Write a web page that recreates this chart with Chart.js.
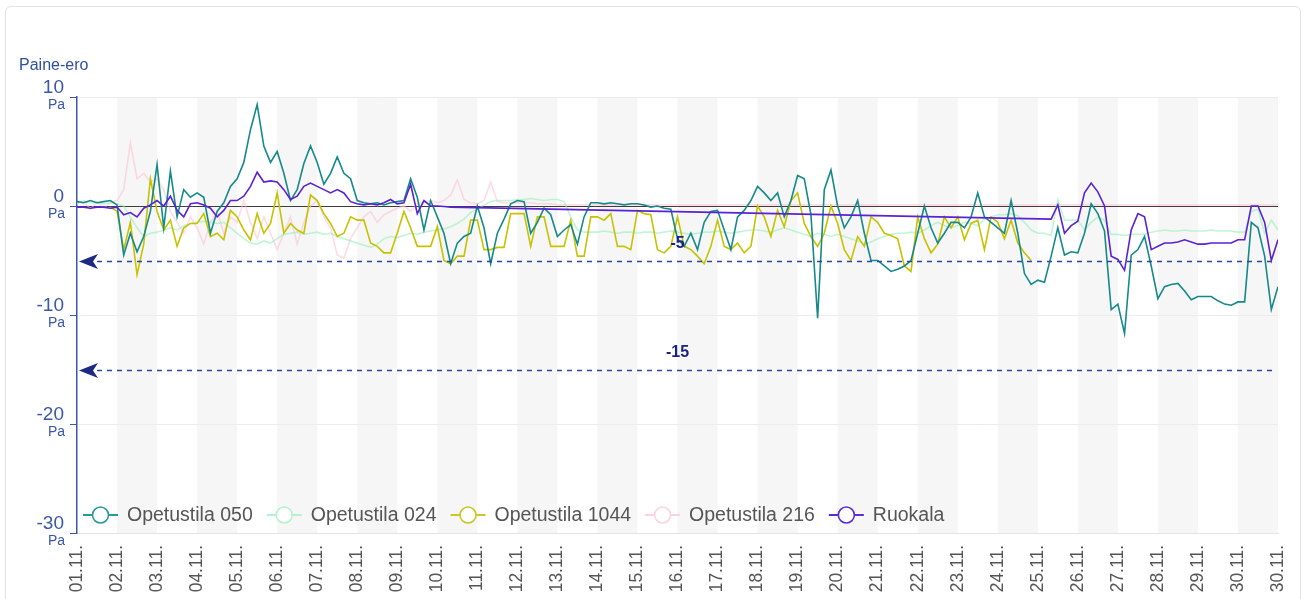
<!DOCTYPE html>
<html>
<head>
<meta charset="utf-8">
<script src="https://cdn.jsdelivr.net/npm/chart.js@4.4.1/dist/chart.umd.min.js"></script>
<style>
  html, body { margin: 0; padding: 0; background: #ffffff; }
  #card { position: absolute; left: 5px; top: 6px; width: 1296px; height: 640px;
          border: 1px solid #e2e2e2; border-radius: 6px; box-sizing: border-box; }
  #wrap { position: absolute; left: 0; top: 0; width: 1308px; height: 599px; }
</style>
</head>
<body>
<div id="card"></div>
<div id="wrap"><canvas id="c" width="1308" height="599"></canvas></div>
<script>
// ---- data (x axis: days since 01.11. 00:00, one value every 4 hours) ----
const stepHours = 4;
const dayLabels = ['01.11.','02.11.','03.11.','04.11.','05.11.','06.11.','07.11.','08.11.','09.11.','10.11.',
  '11.11.','12.11.','13.11.','14.11.','15.11.','16.11.','17.11.','18.11.','19.11.','20.11.',
  '21.11.','22.11.','23.11.','24.11.','25.11.','26.11.','27.11.','28.11.','29.11.','30.11.','30.11.'];
const yTickValues = [10, 0, -10, -20, -30];
const yUnit = 'Pa';
const limitValues = [-5, -15];

const seriesNames = ['Opetustila 050', 'Opetustila 024', 'Opetustila 1044', 'Opetustila 216', 'Ruokala'];

const op050 = [
  0.4, 0.3, 0.5, 0.3, 0.4, 0.5,
  0.1, -4.5, -2.5, -4.2, -2.8, -0.5,
  3.8, -2, 3.2, -1, 1.5, 0.8,
  1.2, 0.8, -2.5, -0.5, 0.3, 1.8,
  2.5, 4, 7, 9.3, 5.5, 4,
  5, 3, 0.5, 1.5, 3.9, 5.5,
  4, 2, 3, 4.5, 3, 2.5,
  0.5, 0.3, 0.2, 0.3, 0.1, 0.3,
  0.4, 0.5, 2.5, 0.8, -2.2, 0.5,
  -1, -2.5, -5.3, -3.4, -2.8, -2.5,
  0, -2, -5.3, -2.5, -1.2, 0.2,
  0.5, 0.4, -2.5, -1.5, -0.2, -0.8,
  -2.8, -2.2, -1.7, -3.5, -1, 0.3,
  0.3, 0.2, 0.3, 0.2, 0.1, 0.2,
  0.2, 0.1, -0.1, 0, -0.2, -0.3,
  -3, -3.7, -2.5, -4, -1.5, -0.5,
  -0.4, -2.2, -4, -1, -0.4, 0.5,
  1.8, 1.2, 0.5, 1.2, -1, 0.5,
  2.8, 2.5, -0.8, -10.3, 1.5, 3.3,
  0, -2, -1, 0.5, -2.5, -5,
  -5, -5.5, -6, -5.8, -5.5, -5,
  -2.5, 0, -2, -3.4, -2.5, -1.5,
  -1.5, -2, -1, 1.2, -1, -1.5,
  -2, -2.5, 0.5, -2.5, -6.2, -7.2,
  -6.8, -7, -4.6, -2, -4.5, -4.2,
  -4.3, -2.5, 0.2, -0.7, -2.3, -9.5,
  -9, -11.7, -4.5, -4, -2.8, -5.5,
  -8.5, -7.4, -7.2, -7.1, -7.8, -8.6,
  -8.3, -8.3, -8.3, -8.7, -9, -9.1,
  -8.8, -8.8, -1.5, -2, -4.6, -9.5,
  -7.4
];

const op024 = [
  0.3, 0.4, 0.3, 0.3, 0.2, 0.3,
  0.2, 0, -1, -2, -2.8, -2.5,
  -2.4, -2.2, -2, -2.2, -1.8, -1.6,
  -1.5, -1.4, -1.5, -1.6, -1.5, -2,
  -2.5, -3, -3.4, -3.5, -3.2, -3.4,
  -3, -2.6, -2.5, -2.4, -2.6, -2.5,
  -2.4, -2.6, -2.5, -2.8, -3, -3.2,
  -3.4, -3.6, -3.8, -3.5, -3, -2.8,
  -2.9, -2.7, -2.5, -2.6, -2.4, -2.3,
  -2.2, -2.1, -1.9, -1.6, -1.2, -0.6,
  -0.3, 0.1, 0.4, 0.5, 0.5, 0.5,
  0.6, 0.6, 0.7, 0.6, 0.5, 0.6,
  0.6, 0.4, -1, -2.2, -2.4, -2.4,
  -2.4, -2.3, -2.4, -2.5, -2.4, -2.4,
  -2.5, -2.4, -2.4, -2.5, -2.4, -2.3,
  -2.4, -2.5, -2.6, -2.5, -2.4, -2.4,
  -2.3, -2.4, -2.5, -2.4, -2.3, -2.2,
  -2.2, -2.3, -2.4, -2.2, -2, -2.2,
  -2.4, -2.6, -2.8, -2.5, -2.6, -2.8,
  -2.6, -2.8, -3, -3.2, -3.5, -3.3,
  -3, -2.8, -2.6, -2.5, -2.5, -2.4,
  -2.5, -2.2, -1.8, -1.5, -1.8, -2,
  -1.8, -1.5, -1.6, -1.8, -1.2, -1,
  -0.8, -0.8, -0.7, -0.9, -1.5, -2.2,
  -2.5, -2.5, -2.7, 0.6, -1.3, -1.3,
  -1.3, -2.2, -1.5, -1, -1.3, -2.6,
  -2.6, -2.7, -2.6, -2.6, -2.6, -2.4,
  -2.3, -2.2, -2.3, -2.3, -2.2, -2.3,
  -2.3, -2.3, -2.2, -2.3, -2.3, -2.3,
  -2.4, -2.4, -0.5, -0.3, -2.5, -1.3,
  -2.2
];

const op1044 = [
  null, null, null, null, null, -0.1,
  -0.5, -4, -1.5, -6.3, -3.5, 2.5,
  -0.5, -2.2, -1.3, -3.7, -2, -1.6,
  -1.6, -0.7, -2.8, -2.5, -3.1, -0.4,
  -1, -2.2, -3.1, -0.7, -2.5, -1.6,
  1.2, -2.5, -1.6, -2.2, -2.5, 1,
  0.5, -0.7, -1.6, -2.8, -2.5, -1,
  -1.3, -1.3, -3.4, -3.7, -4.3, -4.3,
  -2.5, -0.5, -2, -3.7, -3.7, -3.7,
  -1.9, -5, -5.3, -4.6, -4.6, -1.3,
  -1.3, -4, -4, -3.8, -3.8, -0.7,
  -0.7, -0.7, -3.7, -1, -1, -3.7,
  -3.7, -3.7, -1.3, -4.6, -4.6, -1,
  -1, -1.3, -0.7, -3.7, -3.7, -4,
  -0.4, -0.7, -0.8, -4, -4.3, -3.7,
  -1, -3.7, -4, -4.6, -5.3, -3.7,
  -1.3, -3.7, -4, -3.4, -4.3, -3.7,
  0, -1, -2.8, -0.4, -1.9, 0.5,
  1.2, -1.6, -2.8, -3.7, -2.5, 0,
  -1.6, -4, -5, -2.8, -3.7, -1,
  -1.5, -2.5, -2.7, -3, -5.5, -6,
  -1, -3, -4.3, -3.5, -1, -2,
  -1, -3.1, -1.6, -1.3, -4, -1,
  -1.5, -3, -1.3, -3.4, -4.3, -5,
  null, null, null, null, null, null,
  null, null, null, null, null, null,
  null, null, null, null, null, null,
  null, null, null, null, null, null,
  null, null, null, null, null, null,
  null, null, null, null, null, null,
  null
];

const op216 = [
  0.2, 0.5, -0.3, 0.4, -0.2, 0.3,
  0.5, 1.5, 5.8, 2.5, 3, 2.2,
  2.5, 1.5, -0.5, -1.5, -2.5, -1,
  -2, -3.5, -1.5, -0.5, -2.5, -1,
  -1.5, 0.5, -1.5, -3, -1, -2.5,
  -4, -2.5, -1, -3.5, -1.5, 0,
  0.5, -1, -2, -4.5, -4.8, -3,
  -2, -1, -0.5, -1.5, -0.8, -0.5,
  -0.2, 0, -0.5, 0.2, 0.3, 0.5,
  0.3, 0.5, 1, 2.4, 0.6, 0.3,
  0.2, 0.5, 2.2, 0.4, 0.3, 0.3,
  0.3, 0.3, 0.3, 0.2, 0.2, 0.2,
  0.1, 0.1, 0.1, 0.1, 0.1, 0.1,
  0.1, 0.1, 0.1, 0.1, 0.1, 0.1,
  0.1, 0.1, 0.1, 0.1, 0.1, 0.1,
  0.1, 0.1, 0.1, 0.1, 0.1, 0.1,
  0.1, 0.1, 0.1, 0.1, 0.1, 0.1,
  0.1, 0.1, 0.1, 0.1, 0.1, 0.1,
  0.1, 0.1, 0.1, 0.1, 0.1, 0.1,
  0.1, 0.1, 0.1, 0.1, 0.1, 0.1,
  0.1, 0.1, 0.1, 0.1, 0.1, 0.1,
  0.1, 0.1, 0.1, 0.1, 0.1, 0.1,
  0.1, 0.1, 0.1, 0.1, 0.1, 0.1,
  0.1, 0.1, 0.1, 0.1, 0.1, 0.1,
  0.1, 0.1, 0.1, 0.1, 0.1, 0.1,
  0.1, 0.1, 0.1, 0.1, 0.1, 0.1,
  0.1, 0.1, 0.1, 0.1, 0.1, 0.1,
  0.1, 0.1, 0.1, 0.1, 0.1, 0.1,
  0.1, 0.1, 0.1, 0.1, 0.1, 0.1,
  0.1, 0.1, 0.1, 0.1, 0.1, 0.1,
  0.1
];

const ruokala = [
  -0.1, -0.1, -0.2, -0.1, -0.1, -0.2,
  -0.1, -0.8, -0.6, -1, -0.2, 0.1,
  0.5, 0, 0.9, -0.4, -1, 0.2,
  0.3, 0.1, -0.2, -1, -0.4, 0.5,
  0.5, 0.9, 1.8, 3.1, 2.2, 2.3,
  2.2, 1.5, 0.6, 0.9, 1.8, 2.1,
  1.8, 1.5, 1.2, 1.5, 1.2, 0.4,
  0.2, 0.1, 0.2, 0.1, 0.3, 0.6,
  0.2, 0.3, 2, -0.7, 0.5, 0,
  0, -0.05, -0.1, null, null, null,
  null, null, null, null, null, null,
  null, null, null, null, null, null,
  null, null, null, null, null, null,
  null, null, null, null, null, null,
  null, null, null, null, null, null,
  null, null, null, null, null, null,
  null, null, null, null, null, null,
  null, null, null, null, null, null,
  null, null, null, null, null, null,
  null, null, null, null, null, null,
  null, null, null, null, null, null,
  null, null, null, null, null, null,
  null, null, null, null, null, null,
  null, null, null, null, null, null,
  null, null, -1.2, 0.1, -2.5, -1.8,
  -1.4, 1.2, 2.1, 1.3, 0, -4.6,
  -4.9, -5.9, -2.2, -0.7, -1, -4,
  -3.7, -3.4, -3.4, -3.3, -3.1, -3.3,
  -3.5, -3.5, -3.4, -3.4, -3.4, -3.4,
  -3.1, -3.1, 0, 0, -1.5, -5,
  -3.1
];

// ---- styling ----
const FONT = '"Liberation Sans", Arial, sans-serif';
const BLUE_AXIS = '#3b57a8';
const seriesColors = ['#16898a', 'rgba(150,240,185,0.6)', '#c7c200', 'rgba(255,195,210,0.6)', '#5a22d4'];
const legendColors = ['#2a9a9a', '#b4f3cc', '#cbc62a', '#ffd3de', '#5b2dd6'];
const drawOrder = [1, 3, 2, 4, 0];

function toPoints(arr) {
  return arr.map((v, i) => ({ x: i * stepHours / 24, y: v }));
}
const seriesData = [op050, op024, op1044, op216, ruokala];

const bandsPlugin = {
  id: 'dayBands',
  beforeDraw(chart) {
    const { ctx, chartArea: ca, scales: { x } } = chart;
    ctx.save();
    ctx.fillStyle = '#f6f6f6';
    for (let d = 1; d < 30; d += 2) {
      const x0 = x.getPixelForValue(d), x1 = x.getPixelForValue(d + 1);
      ctx.fillRect(x0, ca.top, x1 - x0, ca.bottom - ca.top);
    }
    ctx.restore();
  }
};

const limitsPlugin = {
  id: 'limits',
  afterDatasetsDraw(chart) {
    const { ctx, chartArea: ca, scales: { y } } = chart;
    ctx.save();
    limitValues.forEach(v => {
      const py = Math.round(y.getPixelForValue(v)) + 0.5;
      ctx.strokeStyle = '#2f45a6';
      ctx.lineWidth = 1.3;
      ctx.setLineDash([5, 5]);
      ctx.beginPath();
      ctx.moveTo(ca.left + 20, py);
      ctx.lineTo(ca.right - 6, py);
      ctx.stroke();
      ctx.setLineDash([]);
      // arrow head
      ctx.fillStyle = '#1b2a84';
      ctx.beginPath();
      ctx.moveTo(ca.left + 2, py);
      ctx.lineTo(ca.left + 21, py - 7.5);
      ctx.lineTo(ca.left + 16, py);
      ctx.lineTo(ca.left + 21, py + 7.5);
      ctx.closePath();
      ctx.fill();
      // label
      ctx.font = 'bold 16px ' + FONT;
      ctx.fillStyle = '#1b2380';
      ctx.textAlign = 'center';
      ctx.textBaseline = 'middle';
      ctx.fillText(String(v), (ca.left + ca.right) / 2, py - 18);
    });
    ctx.restore();
  }
};

const yLabelsPlugin = {
  id: 'yLabels',
  afterDraw(chart) {
    const { ctx, scales: { y } } = chart;
    ctx.save();
    ctx.fillStyle = BLUE_AXIS;
    ctx.textAlign = 'right';
    ctx.textBaseline = 'middle';
    yTickValues.forEach(v => {
      const py = y.getPixelForValue(v);
      ctx.font = '19px ' + FONT;
      ctx.fillText(String(v), 64, py - 9);
      ctx.font = '14px ' + FONT;
      ctx.fillText(yUnit, 65, py + 8);
    });
    ctx.font = '16px ' + FONT;
    ctx.textAlign = 'left';
    ctx.fillStyle = '#2f4f9f';
    ctx.fillText('Paine-ero', 19, 66);
    ctx.restore();
  }
};

const legendPlugin = {
  id: 'inlineLegend',
  afterDraw(chart) {
    const { ctx, chartArea: ca } = chart;
    ctx.save();
    ctx.font = '19.5px ' + FONT;
    ctx.textBaseline = 'middle';
    ctx.textAlign = 'left';
    let lx = ca.left + 6;
    const ly = ca.bottom - 18;
    seriesNames.forEach((name, i) => {
      ctx.strokeStyle = legendColors[i];
      ctx.lineWidth = 2;
      ctx.beginPath();
      ctx.moveTo(lx, ly);
      ctx.lineTo(lx + 35, ly);
      ctx.stroke();
      ctx.beginPath();
      ctx.arc(lx + 17.5, ly, 8, 0, Math.PI * 2);
      ctx.fillStyle = '#ffffff';
      ctx.fill();
      ctx.lineWidth = 1.6;
      ctx.stroke();
      ctx.fillStyle = '#555555';
      ctx.fillText(name, lx + 44, ly + 1);
      lx += 44 + ctx.measureText(name).width + 14;
    });
    ctx.restore();
  }
};

new Chart(document.getElementById('c'), {
  type: 'line',
  data: {
    datasets: seriesNames.map((name, i) => ({
      label: name,
      data: toPoints(seriesData[i]),
      borderColor: seriesColors[i],
      backgroundColor: seriesColors[i],
      borderWidth: 1.6,
      pointRadius: 0,
      tension: 0,
      spanGaps: i === 4,
      order: drawOrder[i]
    }))
  },
  options: {
    responsive: false,
    animation: false,
    layout: { padding: { top: 97, right: 30, left: 0, bottom: 0 } },
    plugins: { legend: { display: false }, tooltip: { enabled: false } },
    scales: {
      x: {
        type: 'linear',
        min: 0,
        max: 30,
        afterFit(scale) { scale.height = 66; scale.paddingRight = 0; scale.paddingLeft = 0; },
        grid: { display: false, drawTicks: false },
        border: { display: true, color: '#e4e4e4', width: 1 },
        ticks: {
          stepSize: 1,
          autoSkip: false,
          maxRotation: 90,
          minRotation: 90,
          padding: 12,
          color: '#555555',
          font: { family: FONT, size: 17.5 },
          callback: (v) => dayLabels[v]
        }
      },
      y: {
        min: -30,
        max: 10,
        afterFit(scale) { scale.width = 77; },
        ticks: { stepSize: 10, display: false },
        grid: {
          color: (c) => (c.tick && c.tick.value === 0 ? '#3d3d3d' : '#ececec'),
          tickColor: BLUE_AXIS,
          tickLength: 7,
          lineWidth: 1
        },
        border: { display: true, color: BLUE_AXIS, width: 1.5 }
      }
    }
  },
  plugins: [bandsPlugin, limitsPlugin, yLabelsPlugin, legendPlugin]
});
</script>
</body>
</html>
